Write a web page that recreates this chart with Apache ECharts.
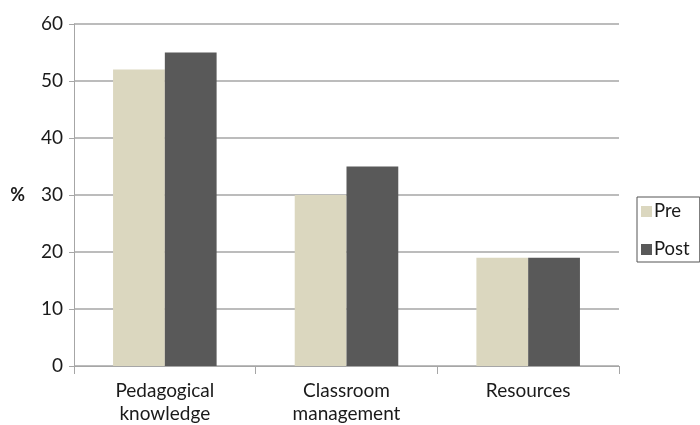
<!DOCTYPE html>
<html>
<head>
<meta charset="utf-8">
<script src="https://cdn.jsdelivr.net/npm/echarts@6/dist/echarts.min.js"></script>
<style>
  html, body { margin: 0; padding: 0; background: #fff; }
  #chart { width: 700px; height: 425px; }
</style>
</head>
<body>
<div id="chart"></div>
<script>
// Share of respondents (%) by area, before and after
const categories = ['Pedagogical\nknowledge', 'Classroom\nmanagement', 'Resources'];
const preValues = [52, 30, 19];
const postValues = [55, 35, 19];
const yTicks = { min: 0, max: 60, interval: 10 };

const font = 'Lato, "Open Sans", sans-serif';
const gridGray = '#a6a6a6';

const chart = echarts.init(document.getElementById('chart'), null, { renderer: 'canvas' });
chart.setOption({
  animation: false,
  backgroundColor: '#ffffff',
  grid: { left: 74, right: 81, top: 24, bottom: 59, containLabel: false },
  legend: {
    orient: 'vertical',
    left: 637,
    top: 197,
    data: ['Pre', 'Post'],
    icon: 'rect',
    itemWidth: 11,
    itemHeight: 11,
    itemGap: 19,
    padding: [5, 10, 3, 4],
    borderColor: '#555',
    borderWidth: 1,
    textStyle: { fontFamily: font, fontSize: 18.5, color: '#1a1a1a', padding: [0, 0, 0, -3] }
  },
  xAxis: {
    type: 'category',
    data: categories,
    axisLine: { lineStyle: { color: gridGray, width: 1 } },
    axisTick: { show: true, alignWithLabel: false, length: 8, lineStyle: { color: gridGray } },
    axisLabel: { fontFamily: font, fontSize: 19, color: '#1a1a1a', margin: 13, lineHeight: 23 }
  },
  yAxis: {
    type: 'value',
    min: yTicks.min,
    max: yTicks.max,
    interval: yTicks.interval,
    name: '%',
    nameLocation: 'middle',
    nameRotate: 0,
    nameGap: 49,
    nameTextStyle: { fontFamily: font, fontSize: 18, fontWeight: 'bold', color: '#1a1a1a' },
    axisLine: { show: true, lineStyle: { color: gridGray, width: 1 } },
    axisTick: { show: true, length: 5, lineStyle: { color: gridGray } },
    axisLabel: { fontFamily: font, fontSize: 19, color: '#1a1a1a', margin: 11 },
    splitLine: { show: true, lineStyle: { color: gridGray, width: 1.5 } }
  },
  series: [
    {
      name: 'Pre',
      type: 'bar',
      data: preValues,
      barGap: '0%',
      barCategoryGap: '43%',
      itemStyle: { color: '#dbd7bf' }
    },
    {
      name: 'Post',
      type: 'bar',
      data: postValues,
      itemStyle: { color: '#595959' }
    }
  ]
});
</script>
</body>
</html>
